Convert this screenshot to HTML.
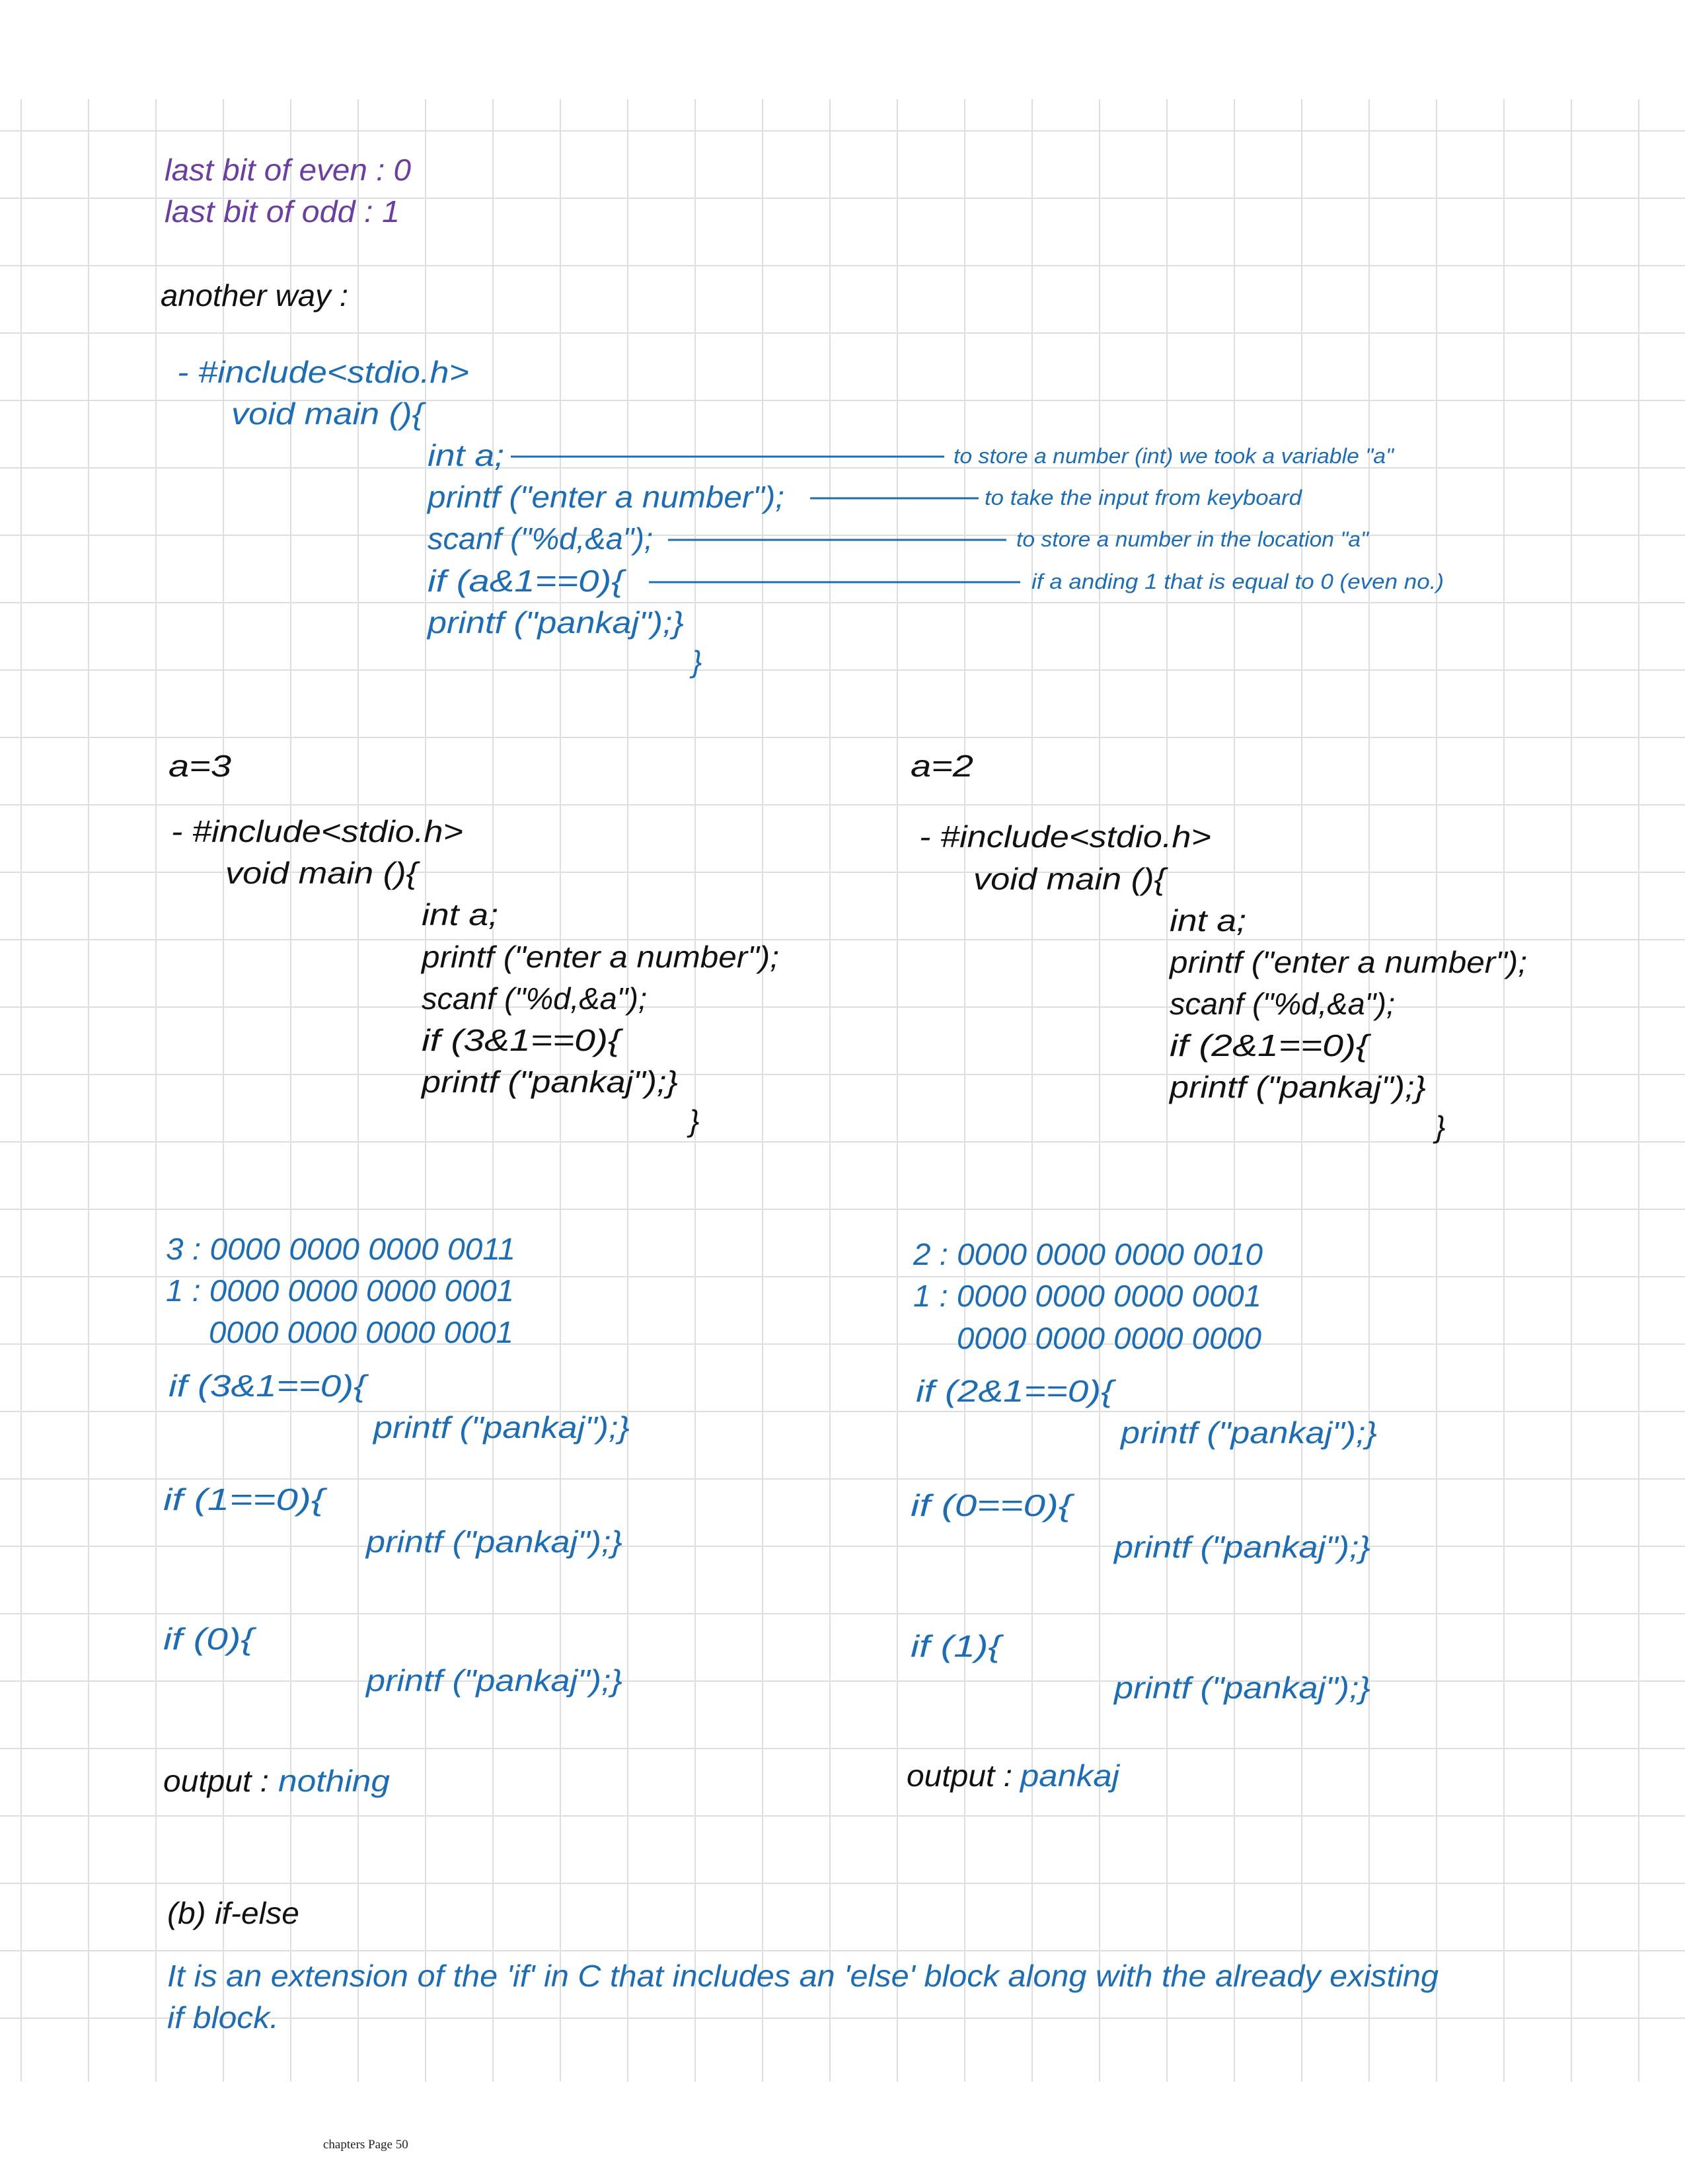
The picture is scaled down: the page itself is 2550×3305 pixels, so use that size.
<!DOCTYPE html>
<html><head><meta charset="utf-8"><style>
html,body{margin:0;padding:0;background:#fff}
svg{display:block}
text{font-family:"Liberation Sans",sans-serif;font-style:italic}
.m{font-size:46px}
.s{font-size:32px}
.p{fill:#6b3fa0}.b{fill:#1e6db3}.k{fill:#111}
</style></head><body>
<svg width="2550" height="3305" viewBox="0 0 2550 3305" xmlns="http://www.w3.org/2000/svg">
<g stroke="#dedede" stroke-width="2">
<path d="M32 150V3150M134 150V3150M236 150V3150M338 150V3150M440 150V3150M542 150V3150M644 150V3150M746 150V3150M848 150V3150M950 150V3150M1052 150V3150M1154 150V3150M1256 150V3150M1358 150V3150M1460 150V3150M1562 150V3150M1664 150V3150M1766 150V3150M1868 150V3150M1970 150V3150M2072 150V3150M2174 150V3150M2276 150V3150M2378 150V3150M2480 150V3150"/>
<path d="M0 198H2550M0 300H2550M0 402H2550M0 504H2550M0 606H2550M0 708H2550M0 810H2550M0 912H2550M0 1014H2550M0 1116H2550M0 1218H2550M0 1320H2550M0 1422H2550M0 1524H2550M0 1626H2550M0 1728H2550M0 1830H2550M0 1932H2550M0 2034H2550M0 2136H2550M0 2238H2550M0 2340H2550M0 2442H2550M0 2544H2550M0 2646H2550M0 2748H2550M0 2850H2550M0 2952H2550M0 3054H2550"/>
</g>
<g lengthAdjust="spacingAndGlyphs">
<text class="m p" x="249" y="273" textLength="373" lengthAdjust="spacingAndGlyphs">last bit of even : 0</text>
<text class="m p" x="249" y="336" textLength="356" lengthAdjust="spacingAndGlyphs">last bit of odd : 1</text>
<text class="m k" x="243" y="463" textLength="284" lengthAdjust="spacingAndGlyphs">another way :</text>

<text class="m b" x="268" y="579" textLength="442" lengthAdjust="spacingAndGlyphs">- #include&lt;stdio.h&gt;</text>
<text class="m b" x="350" y="642" textLength="291" lengthAdjust="spacingAndGlyphs">void main (){</text>
<text class="m b" x="647" y="705" textLength="116" lengthAdjust="spacingAndGlyphs">int a;</text>
<text class="m b" x="647" y="768" textLength="540" lengthAdjust="spacingAndGlyphs">printf ("enter a number");</text>
<text class="m b" x="647" y="831" textLength="341" lengthAdjust="spacingAndGlyphs">scanf ("%d,&amp;a");</text>
<text class="m b" x="647" y="895" textLength="297" lengthAdjust="spacingAndGlyphs">if (a&amp;1==0){</text>
<text class="m b" x="647" y="958" textLength="388" lengthAdjust="spacingAndGlyphs">printf ("pankaj");}</text>
<text class="m b" x="1047" y="1017">}</text>
<g stroke="#1e6db3" stroke-width="3">
<line x1="773" y1="691" x2="1429" y2="691"/>
<line x1="1226" y1="754" x2="1481" y2="754"/>
<line x1="1011" y1="817" x2="1523" y2="817"/>
<line x1="982" y1="881" x2="1544" y2="881"/>
</g>
<text class="s b" x="1443" y="701" textLength="666" lengthAdjust="spacingAndGlyphs">to store a number (int) we took a variable "a"</text>
<text class="s b" x="1490" y="764" textLength="480" lengthAdjust="spacingAndGlyphs">to take the input from keyboard</text>
<text class="s b" x="1538" y="827" textLength="533" lengthAdjust="spacingAndGlyphs">to store a number in the location "a"</text>
<text class="s b" x="1561" y="891" textLength="624" lengthAdjust="spacingAndGlyphs">if a anding 1 that is equal to 0 (even no.)</text>

<text class="m k" x="255" y="1175" textLength="95" lengthAdjust="spacingAndGlyphs">a=3</text>
<text class="m k" x="259" y="1274" textLength="442" lengthAdjust="spacingAndGlyphs">- #include&lt;stdio.h&gt;</text>
<text class="m k" x="341" y="1337" textLength="291" lengthAdjust="spacingAndGlyphs">void main (){</text>
<text class="m k" x="638" y="1400" textLength="116" lengthAdjust="spacingAndGlyphs">int a;</text>
<text class="m k" x="638" y="1464" textLength="541" lengthAdjust="spacingAndGlyphs">printf ("enter a number");</text>
<text class="m k" x="638" y="1527" textLength="341" lengthAdjust="spacingAndGlyphs">scanf ("%d,&amp;a");</text>
<text class="m k" x="638" y="1590" textLength="301" lengthAdjust="spacingAndGlyphs">if (3&amp;1==0){</text>
<text class="m k" x="638" y="1653" textLength="388" lengthAdjust="spacingAndGlyphs">printf ("pankaj");}</text>
<text class="m k" x="1043" y="1712">}</text>

<text class="m k" x="1378" y="1175" textLength="95" lengthAdjust="spacingAndGlyphs">a=2</text>
<text class="m k" x="1391" y="1282" textLength="442" lengthAdjust="spacingAndGlyphs">- #include&lt;stdio.h&gt;</text>
<text class="m k" x="1473" y="1346" textLength="291" lengthAdjust="spacingAndGlyphs">void main (){</text>
<text class="m k" x="1770" y="1409" textLength="116" lengthAdjust="spacingAndGlyphs">int a;</text>
<text class="m k" x="1770" y="1472" textLength="541" lengthAdjust="spacingAndGlyphs">printf ("enter a number");</text>
<text class="m k" x="1770" y="1535" textLength="341" lengthAdjust="spacingAndGlyphs">scanf ("%d,&amp;a");</text>
<text class="m k" x="1770" y="1598" textLength="301" lengthAdjust="spacingAndGlyphs">if (2&amp;1==0){</text>
<text class="m k" x="1770" y="1661" textLength="388" lengthAdjust="spacingAndGlyphs">printf ("pankaj");}</text>
<text class="m k" x="2172" y="1721">}</text>

<text class="m b" x="251" y="1906" textLength="529" lengthAdjust="spacingAndGlyphs">3 : 0000 0000 0000 0011</text>
<text class="m b" x="251" y="1969" textLength="527" lengthAdjust="spacingAndGlyphs">1 : 0000 0000 0000 0001</text>
<text class="m b" x="316" y="2032" textLength="461" lengthAdjust="spacingAndGlyphs">0000 0000 0000 0001</text>
<text class="m b" x="255" y="2113" textLength="299" lengthAdjust="spacingAndGlyphs">if (3&amp;1==0){</text>
<text class="m b" x="565" y="2176" textLength="388" lengthAdjust="spacingAndGlyphs">printf ("pankaj");}</text>
<text class="m b" x="247" y="2285" textLength="244" lengthAdjust="spacingAndGlyphs">if (1==0){</text>
<text class="m b" x="554" y="2349" textLength="388" lengthAdjust="spacingAndGlyphs">printf ("pankaj");}</text>
<text class="m b" x="247" y="2496" textLength="137" lengthAdjust="spacingAndGlyphs">if (0){</text>
<text class="m b" x="554" y="2559" textLength="388" lengthAdjust="spacingAndGlyphs">printf ("pankaj");}</text>
<text class="m k" x="247" y="2711" textLength="160" lengthAdjust="spacingAndGlyphs">output :</text>
<text class="m b" x="421" y="2711" textLength="169" lengthAdjust="spacingAndGlyphs">nothing</text>

<text class="m b" x="1382" y="1914" textLength="529" lengthAdjust="spacingAndGlyphs">2 : 0000 0000 0000 0010</text>
<text class="m b" x="1382" y="1977" textLength="527" lengthAdjust="spacingAndGlyphs">1 : 0000 0000 0000 0001</text>
<text class="m b" x="1448" y="2041" textLength="461" lengthAdjust="spacingAndGlyphs">0000 0000 0000 0000</text>
<text class="m b" x="1386" y="2121" textLength="299" lengthAdjust="spacingAndGlyphs">if (2&amp;1==0){</text>
<text class="m b" x="1696" y="2184" textLength="388" lengthAdjust="spacingAndGlyphs">printf ("pankaj");}</text>
<text class="m b" x="1378" y="2294" textLength="244" lengthAdjust="spacingAndGlyphs">if (0==0){</text>
<text class="m b" x="1686" y="2357" textLength="388" lengthAdjust="spacingAndGlyphs">printf ("pankaj");}</text>
<text class="m b" x="1378" y="2507" textLength="137" lengthAdjust="spacingAndGlyphs">if (1){</text>
<text class="m b" x="1686" y="2570" textLength="388" lengthAdjust="spacingAndGlyphs">printf ("pankaj");}</text>
<text class="m k" x="1372" y="2703" textLength="160" lengthAdjust="spacingAndGlyphs">output :</text>
<text class="m b" x="1544" y="2703" textLength="150" lengthAdjust="spacingAndGlyphs">pankaj</text>

<text class="m k" x="253" y="2911" textLength="200" lengthAdjust="spacingAndGlyphs">(b) if-else</text>
<text class="m b" x="253" y="3006" textLength="1924" lengthAdjust="spacingAndGlyphs">It is an extension of the 'if' in C that includes an 'else' block along with the already existing</text>
<text class="m b" x="253" y="3069" textLength="169" lengthAdjust="spacingAndGlyphs">if block.</text>
</g>
<text x="489" y="3251" style="font-family:'Liberation Serif',serif;font-style:normal;font-size:19px" fill="#222">chapters Page 50</text>
</svg>
</body></html>
